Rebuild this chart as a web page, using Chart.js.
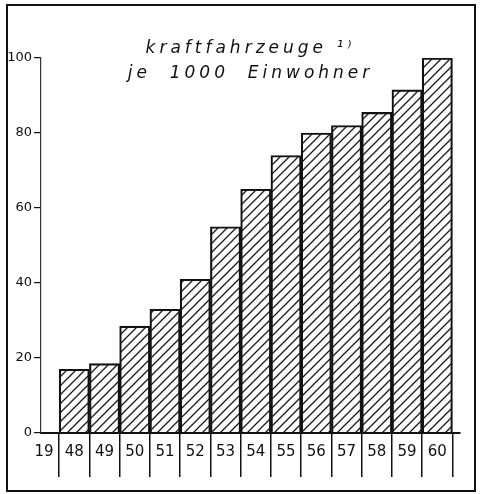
<!DOCTYPE html>
<html>
<head>
<meta charset="utf-8">
<script src="https://cdn.jsdelivr.net/npm/chart.js@4"></script>
<style>
  html, body { margin: 0; padding: 0; background: #fff; }
  #frame {
    position: absolute; left: 6px; top: 4px;
    width: 466px; height: 484px;
    border: 2px solid #111;
  }
  canvas { display: block; }
</style>
</head>
<body>
<div id="frame"><canvas id="chart" width="466" height="484"></canvas></div>
<script>
// Kraftfahrzeuge je 1000 Einwohner, 1948 - 1960
const years = [48, 49, 50, 51, 52, 53, 54, 55, 56, 57, 58, 59, 60];
const values = [17, 18.5, 28.5, 33, 41, 55, 65, 74, 80, 82, 85.5, 91.5, 100];
const xTickValues = [47, 48, 49, 50, 51, 52, 53, 54, 55, 56, 57, 58, 59, 60];
const xTickLabels = ['19', '48', '49', '50', '51', '52', '53', '54', '55', '56', '57', '58', '59', '60'];
const yTicks = [0, 20, 40, 60, 80, 100];
const titleLines = ['kraftfahrzeuge \u00b9\u207e', 'je  1000  Einwohner'];

const ink = '#111';

// diagonal hatching like the drawn original
const makeHatch = () => {
    const c = document.createElement('canvas');
    c.width = c.height = 9;
    const g = c.getContext('2d');
    g.strokeStyle = '#1a1a1a';
    g.lineWidth = 1.3;
    g.beginPath();
    g.moveTo(-1, 10); g.lineTo(10, -1);
    g.moveTo(-1, 1); g.lineTo(1, -1);
    g.moveTo(8, 10); g.lineTo(10, 8);
    g.stroke();
    return g.createPattern(c, 'repeat');
};

// wide lettering for the title only
const spacing = {
    id: 'spacing',
    beforeDraw(chart) { chart.ctx.letterSpacing = '4px'; },
    beforeDatasetsDraw(chart) { chart.ctx.letterSpacing = '0px'; }
};

new Chart(document.getElementById('chart'), {
    type: 'bar',
    data: {
        datasets: [{
            data: years.map((y, i) => ({ x: y, y: values[i] })),
            backgroundColor: makeHatch(),
            borderColor: ink,
            borderWidth: 1.5,
            categoryPercentage: 1,
            barPercentage: 1
        }]
    },
    options: {
        responsive: false,
        animation: false,
        devicePixelRatio: 1,
        layout: { padding: { right: 14, left: 0, bottom: 0 } },
        plugins: {
            legend: { display: false },
            tooltip: { enabled: false },
            title: {
                display: true,
                fullSize: false,
                text: titleLines,
                color: ink,
                font: { family: 'DejaVu Sans', size: 17, style: 'italic', weight: 'normal', lineHeight: 1.47 },
                padding: { top: 30, bottom: -28 }
            }
        },
        scales: {
            x: {
                type: 'linear',
                min: 46.9,
                max: 60.75,
                offset: false,
                afterBuildTicks: s => { s.ticks = xTickValues.map(v => ({ value: v })); },
                afterFit: s => { s.height = 57; },
                grid: {
                    offset: true,
                    drawOnChartArea: false,
                    drawTicks: true,
                    tickLength: 44,
                    color: ink,
                    lineWidth: 1.5
                },
                border: { display: true, color: ink, width: 2 },
                ticks: {
                    autoSkip: false,
                    maxRotation: 0,
                    padding: -34,
                    z: 1,
                    color: ink,
                    font: { family: 'DejaVu Sans', size: 15 },
                    callback: (v, i) => xTickLabels[i]
                }
            },
            y: {
                min: 0,
                max: 100,
                afterBuildTicks: s => { s.ticks = yTicks.map(v => ({ value: v })); },
                afterFit: s => { s.width = 33; },
                grid: {
                    drawOnChartArea: false,
                    drawTicks: true,
                    tickLength: 7,
                    color: ink,
                    lineWidth: 1.2
                },
                border: { display: true, color: '#333', width: 1.2, dash: [5, 4] },
                ticks: {
                    padding: 2,
                    z: 1,
                    color: ink,
                    font: { family: 'DejaVu Sans', size: 13 }
                }
            }
        }
    },
    plugins: [spacing]
});
</script>
</body>
</html>
